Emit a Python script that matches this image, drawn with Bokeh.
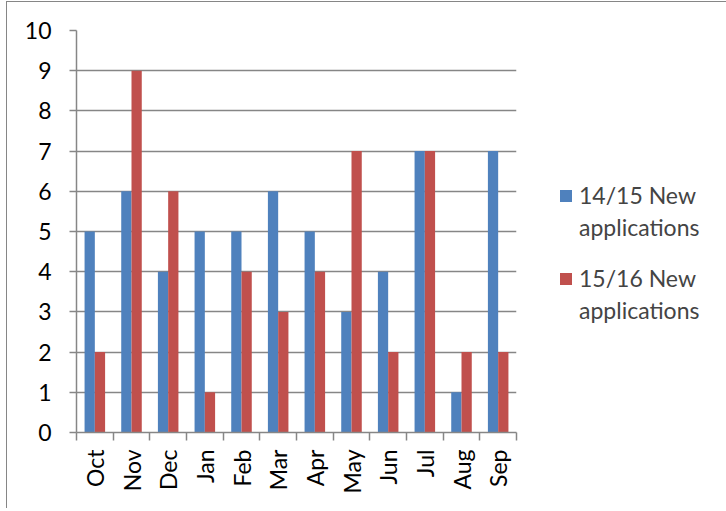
import math
from bokeh.plotting import figure
from bokeh.models import ColumnDataSource, FixedTicker, Range1d, Legend, LegendItem
from bokeh.embed import file_html
from bokeh.resources import INLINE

months = ["Oct", "Nov", "Dec", "Jan", "Feb", "Mar", "Apr", "May", "Jun", "Jul", "Aug", "Sep"]
apps_1415 = [5, 6, 4, 5, 5, 6, 5, 3, 4, 7, 1, 7]
apps_1516 = [2, 9, 6, 1, 4, 3, 4, 7, 2, 7, 2, 2]
series_lines = [["14/15 New", "applications"], ["15/16 New", "applications"]]
y_ticks = list(range(0, 11))

FONT = "Lato"
GRID = "#868686"
BLUE = "#4F81BD"
RED = "#C0504D"

centers = [i + 0.5 for i in range(len(months))]
bar_w = 0.28
src = ColumnDataSource(dict(
    xb=[c - bar_w / 2 for c in centers],
    xr=[c + bar_w / 2 for c in centers],
    a=apps_1415, b=apps_1516,
))

p = figure(frame_width=440, frame_height=402, output_backend="svg", toolbar_location=None,
           x_range=Range1d(0, len(months)), y_range=Range1d(0, 10))
p.min_border_left = 69
p.min_border_top = 28
p.min_border_right = 205
p.min_border_bottom = 76
p.margin = (1, 0, 0, 6)
p.styles = {"border-left": "1px solid #868686", "border-top": "1px solid #868686"}
p.outline_line_color = None
p.background_fill_color = "white"
p.border_fill_color = "white"

r1 = p.vbar(x="xb", top="a", width=bar_w, source=src, fill_color=BLUE, line_color=None)
r2 = p.vbar(x="xr", top="b", width=bar_w, source=src, fill_color=RED, line_color=None)

# x axis
xa = p.xaxis[0]
xa.ticker = FixedTicker(ticks=centers, minor_ticks=list(range(0, len(months) + 1)))
xa.major_label_overrides = {c: m for c, m in zip(centers, months)}
xa.major_label_orientation = math.pi / 2
xa.major_tick_out = 0
xa.major_tick_in = 0
xa.minor_tick_out = 8
xa.minor_tick_in = 0
xa.minor_tick_line_color = GRID
xa.minor_tick_line_width = 1.5
xa.axis_line_color = GRID
xa.axis_line_width = 1.5
xa.major_label_text_font = FONT
xa.major_label_text_font_size = "23px"
xa.major_label_text_color = "black"
xa.major_label_standoff = 9

ya = p.yaxis[0]
ya.ticker = FixedTicker(ticks=y_ticks)
ya.minor_tick_line_color = None
ya.major_tick_out = 7
ya.major_tick_in = 0
ya.major_tick_line_color = GRID
ya.major_tick_line_width = 1.5
ya.axis_line_color = GRID
ya.axis_line_width = 1.5
ya.major_label_text_font = FONT
ya.major_label_text_font_size = "23px"
ya.major_label_text_color = "black"
ya.major_label_standoff = 18

p.xgrid.grid_line_color = None
p.ygrid.ticker = FixedTicker(ticks=y_ticks)
p.ygrid.grid_line_color = GRID
p.ygrid.grid_line_width = 1.5

items = [
    LegendItem(label=series_lines[0][0], renderers=[r1]),
    LegendItem(label=series_lines[0][1], renderers=[]),
    LegendItem(label=" ", renderers=[]),
    LegendItem(label=series_lines[1][0], renderers=[r2]),
    LegendItem(label=series_lines[1][1], renderers=[]),
]
legend = Legend(items=items,
                location=(42, 108), border_line_color=None, background_fill_alpha=0,
                label_text_font=FONT, label_text_font_size="23px",
                glyph_width=15, glyph_height=15, label_standoff=6, spacing=4,
                margin=0, padding=0)
p.add_layout(legend, "right")

open("out.html", "w").write(file_html(p, INLINE))
